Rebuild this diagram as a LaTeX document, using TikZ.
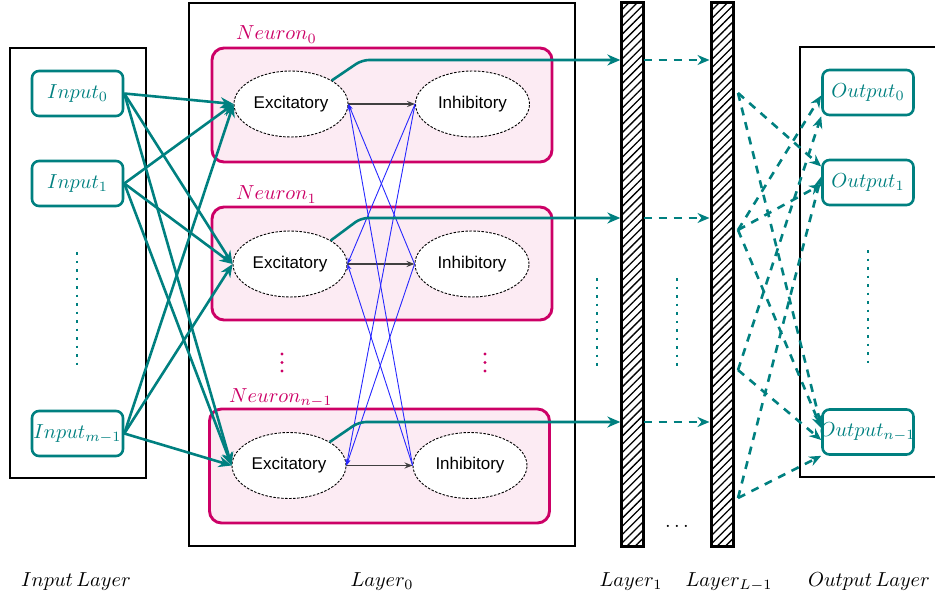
\RequirePackage{fix-cm}
\documentclass[tikz,border=0pt]{standalone}
\usepackage{fontspec}
\newfontfamily\sansf{Liberation Sans}
\usetikzlibrary{arrows.meta,patterns.meta,calc,shapes.geometric}
\definecolor{tealc}{RGB}{0,128,128}
\definecolor{magc}{RGB}{204,0,102}
\definecolor{pinkf}{RGB}{252,235,243}
\definecolor{darkg}{RGB}{64,64,64}
\definecolor{bluec}{RGB}{40,40,255}
\newcommand{\mlab}[1]{\scalebox{2.03}{$#1$}}
\begin{document}
\begin{tikzpicture}[x=1pt,y=-1pt,
  layerbox/.style={draw=black,line width=2.9pt},
  iobox/.style={draw=tealc,line width=2.6pt,rounded corners=7pt,minimum width=91pt,minimum height=45pt,inner sep=0pt,text=tealc},
  iotext/.style={text=tealc,inner sep=0pt},
  neuronbox/.style={draw=magc,fill=pinkf,line width=2.9pt,rounded corners=12pt,minimum width=340pt,inner sep=0pt},
  neulab/.style={text=magc,anchor=base west,inner sep=0pt},
  cell/.style={ellipse,draw=black,dash pattern=on 2.5pt off 1.5pt,line width=0.9pt,fill=white,minimum width=114pt,minimum height=66pt,inner sep=0pt,font=\sansf\fontsize{17}{20}\selectfont},
  bar/.style={draw=black,line width=3pt,minimum width=22pt,minimum height=544pt,inner sep=0pt,pattern={Lines[angle=45,distance=5.8pt,line width=1.3pt]}},
  botlab/.style={anchor=base,inner sep=0pt},
  tealarrow/.style={draw=tealc,line width=2.6pt,-{Stealth[length=13pt,width=11pt]}},
  dasharrow/.style={draw=tealc,line width=2.6pt,dash pattern=on 8pt off 7pt,-{Stealth[length=12pt,width=10pt]}},
  tdots/.style={draw=tealc,line width=2.8pt,dash pattern=on 2.8pt off 5.7pt},
  mdots/.style={draw=magc,line width=3.2pt,line cap=round,dash pattern=on 0pt off 8.5pt},
  inharrow/.style={draw=bluec,line width=0.9pt,-{Stealth[length=6pt,width=4.5pt]}},
  excarrow/.style={draw=darkg,line width=1.5pt,-{Stealth[length=8pt,width=6pt]}}
]
\useasboundingbox (0,0) rectangle (935,599);

% layer boxes
\draw[layerbox] (10,48) rectangle (146,478);
\draw[layerbox] (189,3) rectangle (575,546);
\draw[layerbox] (950,47) -- (800,47) -- (800,477) -- (950,477);

% hatched layers
\node[bar] (l1) at (632,274.5) {};
\node[bar] (lL) at (722,274.5) {};

% input nodes
\node[iobox] (in0) at (77.5,93.5) {\mlab{Input_0}};
\node[iobox] (in1) at (77.5,183.5) {\mlab{Input_1}};
\node[iobox] (inm) at (77.5,433.5) {\mlab{Input_{m-1}}};
\draw[tdots] (77,252) -- (77,367);

% output nodes
\node[iobox] (o0) at (868,92.5) {\mlab{Output_0}};
\node[iobox] (o1) at (868,182.5) {\mlab{Output_1}};
\node[iobox] (o2) at (868,432) {};
\node[iotext] at (867.5,432) {\mlab{Output_{n-1}}};
\draw[tdots] (868,250) -- (868,365);

% dots between layers
\draw[tdots] (597,278) -- (597,366);
\draw[tdots] (677,278) -- (677,366);
\node[botlab] (ell) at (677,527) {\mlab{\ldots}};

% neurons
\node[neuronbox,minimum height=114pt] (n0) at (382,105) {};
\node[neuronbox,minimum height=113pt] (n1) at (382,263.5) {};
\node[neuronbox,minimum height=114pt] (n2) at (379.5,466) {};
\node[neulab] at (236,40) {\mlab{Neuron_0}};
\node[neulab] at (236,200) {\mlab{Neuron_1}};
\node[neulab] at (229,402) {\mlab{Neuron_{n-1}}};
\draw[mdots] (282,354) -- (282,372);
\draw[mdots] (485,354) -- (485,372);

\node[cell] (ex0) at (291,104) {Excitatory};
\node[cell] (ih0) at (472.5,104) {Inhibitory};
\node[cell] (ex1) at (290,264) {Excitatory};
\node[cell] (ih1) at (472,264) {Inhibitory};
\node[cell] (ex2) at (289,465.5) {Excitatory};
\node[cell] (ih2) at (470,465.5) {Inhibitory};

% exc -> inh
\draw[excarrow] (ex0.east) -- (ih0.west);
\draw[excarrow] (ex1.east) -- (ih1.west);
\draw[excarrow] (ex2.east) -- (ih2.west);

% inhibitory feedback
\foreach \a/\b in {ih0/ex1,ih0/ex2,ih1/ex0,ih1/ex2,ih2/ex0,ih2/ex1}
  \draw[inharrow] (\a.west) -- (\b.east);

% inputs -> excitatory
\foreach \i in {in0,in1,inm}
  \foreach \e in {ex0,ex1,ex2}
    \draw[tealarrow] (\i.east) -- (\e.west);

% excitatory -> layer 1 -> layer L-1
\coordinate (k0) at (362,60);
\coordinate (k1) at (361,218);
\coordinate (k2) at (359,422);
\draw[tealarrow,rounded corners=7pt] (ex0.30) -- (k0) -- (k0 -| l1.west);
\draw[tealarrow,rounded corners=7pt] (ex1.30) -- (k1) -- (k1 -| l1.west);
\draw[tealarrow,rounded corners=7pt] (ex2.30) -- (k2) -- (k2 -| l1.west);
\draw[dasharrow] (k0 -| l1.east) -- (k0 -| lL.west);
\draw[dasharrow] (k1 -| l1.east) -- (k1 -| lL.west);
\draw[dasharrow] (k2 -| l1.east) -- (k2 -| lL.west);

% layer L-1 -> outputs
\coordinate (s1) at (738,93);
\coordinate (s2) at (738,230);
\coordinate (s3) at (738,370);
\coordinate (s4) at (738,498);
\draw[dasharrow] (s1) -- ($(o1.west)+(0,-16)$);
\draw[dasharrow] (s1) -- ($(o2.west)+(0,-6)$);
\draw[dasharrow] (s2) -- ($(o0.west)+(0,3)$);
\draw[dasharrow] (s2) -- ($(o1.west)+(0,2)$);
\draw[dasharrow] (s2) -- ($(o2.west)+(0,-4)$);
\draw[dasharrow] (s3) -- (o0.south west);
\draw[dasharrow] (s3) -- ($(o2.west)+(0,8)$);
\draw[dasharrow] (s4) -- ($(o1.west)+(0,-6)$);
\draw[dasharrow] (s4) -- (o2.south west);

% bottom labels
\node[botlab] at (76,586) {\mlab{Input\,Layer}};
\node[botlab] at (382,586) {\mlab{Layer_0}};
\node[botlab] at (631,586) {\mlab{Layer_1}};
\node[botlab] at (729,586) {\mlab{Layer_{L-1}}};
\node[botlab] at (869,586) {\mlab{Output\,Layer}};
\end{tikzpicture}
\end{document}
